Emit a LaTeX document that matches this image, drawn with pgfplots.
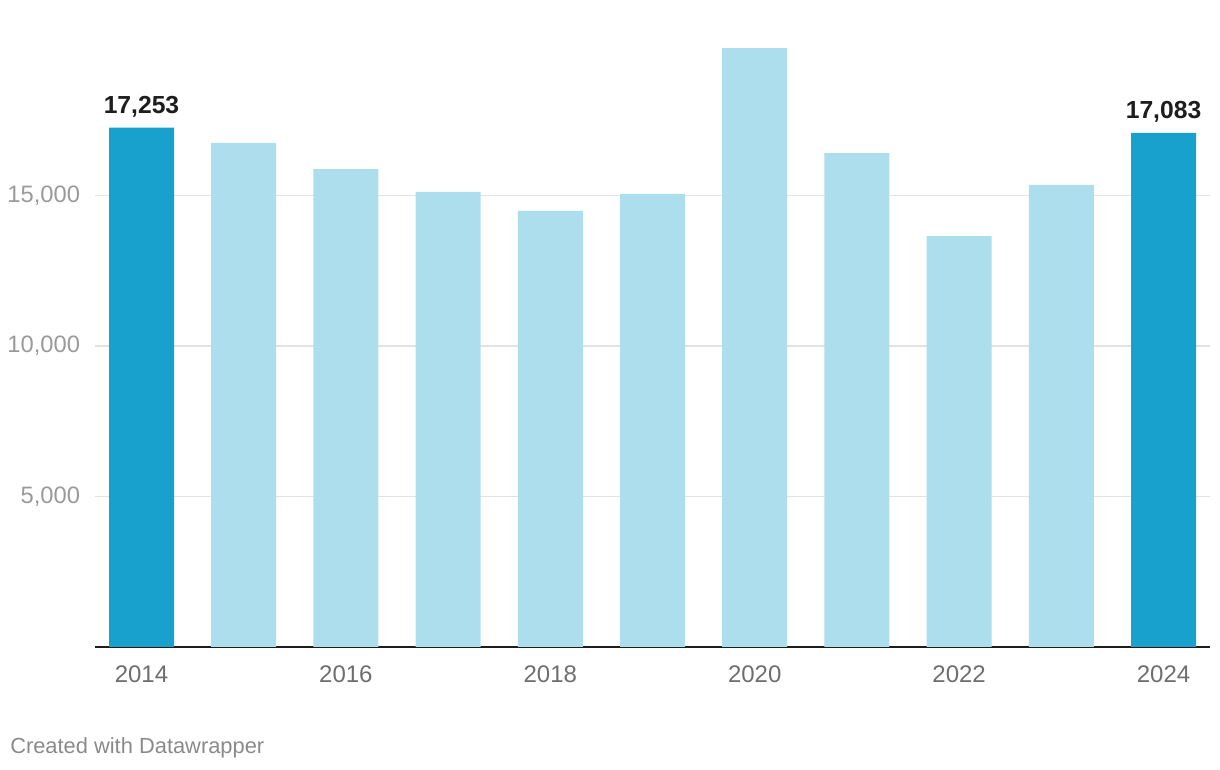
\documentclass[border=0pt]{standalone}
\usepackage{fontspec}
\setmainfont{Liberation Sans}
\usepackage{pgfplots}
\pgfplotsset{compat=1.18}
\definecolor{darkbar}{HTML}{18A1CD}
\definecolor{lightbar}{HTML}{ADDEED}
\definecolor{gridc}{HTML}{E2E2E2}
\definecolor{ylab}{HTML}{9A9A9A}
\definecolor{xlab}{HTML}{6E6E6E}
\definecolor{credit}{HTML}{8A8A8A}
\definecolor{axisc}{HTML}{1D1D1D}
\begin{document}
\begin{tikzpicture}
\path[use as bounding box] (0pt,0pt) rectangle (915pt,577.5pt);
\begin{axis}[
  at={(71.25pt,92.25pt)}, anchor=south west,
  scale only axis, width=836.25pt, height=451.5pt,
  xmin=2013.545, xmax=2024.455, ymin=0, ymax=20000,
  scaled y ticks=false, scaled x ticks=false,
  axis x line*=bottom, axis y line*=left,
  x axis line style={draw=axisc, line width=1.5pt, -},
  y axis line style={draw=none},
  major tick length=0pt,
  ytick={5000,10000,15000},
  yticklabels={{5,000},{10,000},{15,000}},
  xtick={2014,2016,2018,2020,2022,2024},
  xticklabels={2014,2016,2018,2020,2022,2024},
  ymajorgrids, grid style={draw=gridc, line width=0.9pt},
  /pgf/number format/assume math mode=true,
  yticklabel style={anchor=east, inner sep=0pt, xshift=-11pt, text=ylab, font=\fontsize{17.8}{22}\selectfont},
  xticklabel style={anchor=north, inner sep=0pt, yshift=-13.5pt, text=xlab, font=\fontsize{18}{22}\selectfont},
  ybar,
]
\addplot[fill=lightbar, draw=none, bar width=48.75pt, bar shift=0pt]
  coordinates {(2015,16750) (2016,15880) (2017,15120) (2018,14490) (2019,15050) (2020,19900) (2021,16410) (2022,13650) (2023,15350)};
\addplot[fill=darkbar, draw=none, bar width=48.75pt, bar shift=0pt,
  nodes near coords={\pgfmathprintnumber[1000 sep={,}]{\pgfplotspointmeta}},
  every node near coord/.append style={anchor=base, inner sep=0pt, yshift=11pt, text=axisc, font=\bfseries\fontsize{18.5}{22}\selectfont}]
  coordinates {(2014,17253) (2024,17083)};
\end{axis}
\node[anchor=base west, inner sep=0pt, text=credit, font=\fontsize{16.4}{20}\selectfont] at (7.5pt,12pt) {Created with Datawrapper};
\end{tikzpicture}
\end{document}
